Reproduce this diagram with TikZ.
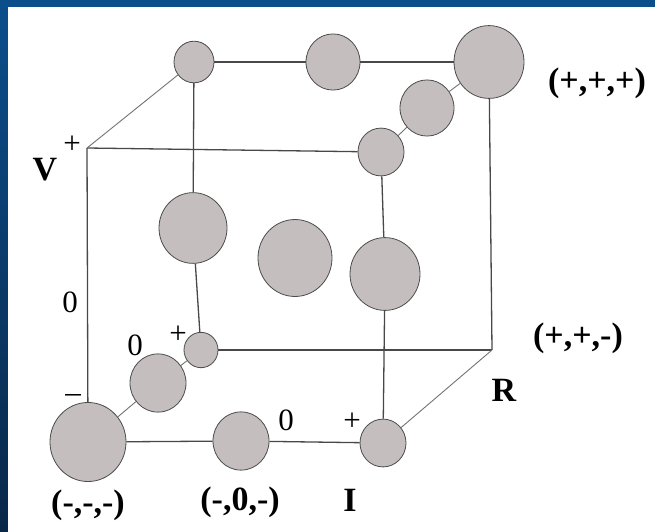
\documentclass[tikz,border=0pt]{standalone}
\usepackage{fontspec}
\setmainfont{Liberation Serif}
\usepackage{tikz}
\usetikzlibrary{shapes.geometric}
\definecolor{ballgray}{RGB}{196,191,190}
\definecolor{edgegray}{RGB}{72,72,72}
\definecolor{slidetop}{RGB}{11,78,140}
\definecolor{slidebot}{RGB}{9,40,72}

\begin{document}
\begin{tikzpicture}[
    x=1pt, y=-1pt,
    site/.style={ellipse, draw=black!70, fill=ballgray, inner sep=0pt,
                 line width=0.8pt, minimum width=2*#1, minimum height=2.08*#1},
    cubeedge/.style={draw=edgegray, line width=1.3pt},
    depthedge/.style={draw=black!55, line width=0.9pt},
    lbl/.style={font=\fontsize{31}{33}\selectfont, inner sep=0pt},
    axis/.style={font=\fontsize{34}{36}\selectfont\bfseries, inner sep=0pt}
]
\useasboundingbox (0,0) rectangle (655,532);
\shade[top color=slidetop, bottom color=slidebot] (0,0) rectangle (655,532);
\fill[white] (8,7) rectangle (655,532);

\coordinate (ftl) at (87,148);
\coordinate (bbr) at (492,350);
\node[site=23] (ftr) at (381,152) {};
\node[site=38] (fbl) at (88,442) {};
\node[site=28] (fbm) at (241,441) {};
\node[site=23] (fbr) at (383,443) {};
\node[site=35] (frm) at (385,274) {};
\node[site=20] (btl) at (194,62) {};
\node[site=27] (btm) at (333,62) {};
\node[site=35] (btr) at (489,62) {};
\node[site=34] (blm) at (193,228) {};
\node[site=17] (bbl) at (201,350) {};
\node[site=27] (dtr) at (427,108) {};
\node[site=28] (dbl) at (158,383) {};
\node[site=37] (mid) at (295,258) {};

\foreach \a/\b in {ftl/ftr, ftl/fbl, fbl/fbm, fbm/fbr, ftr/frm, frm/fbr,
                   btl/btm, btm/btr, btl/blm, blm/bbl, bbl/bbr, bbr/btr} {
    \draw[cubeedge] (\a) -- (\b);
}
\foreach \a/\b in {ftl/btl, ftr/dtr, dtr/btr, fbl/dbl, dbl/bbl, fbr/bbr} {
    \draw[depthedge] (\a) -- (\b);
}

\node[axis] (vname) at (45,170) {V};
\node[lbl] (vplus) at (72,145) {+};
\node[lbl] (vzero) at (70,302) {0};
\node[lbl] (vminus) at (73,398) {--};
\node[lbl] (rzero) at (135,345) {0};
\node[lbl] (rplus) at (178,335) {+};
\node[lbl] (izero) at (286,420) {0};
\node[lbl] (iplus) at (352,422) {+};
\node[axis] (mmm) at (88,505) {(-,-,-)};
\node[axis] (mzm) at (240,502) {(-,0,-)};
\node[axis] (iname) at (350,500) {I};
\node[axis] (rname) at (504,390) {R};
\node[axis] (ppm) at (578,338) {(+,+,-)};
\node[axis] (ppp) at (597,83) {(+,+,+)};
\end{tikzpicture}
\end{document}
